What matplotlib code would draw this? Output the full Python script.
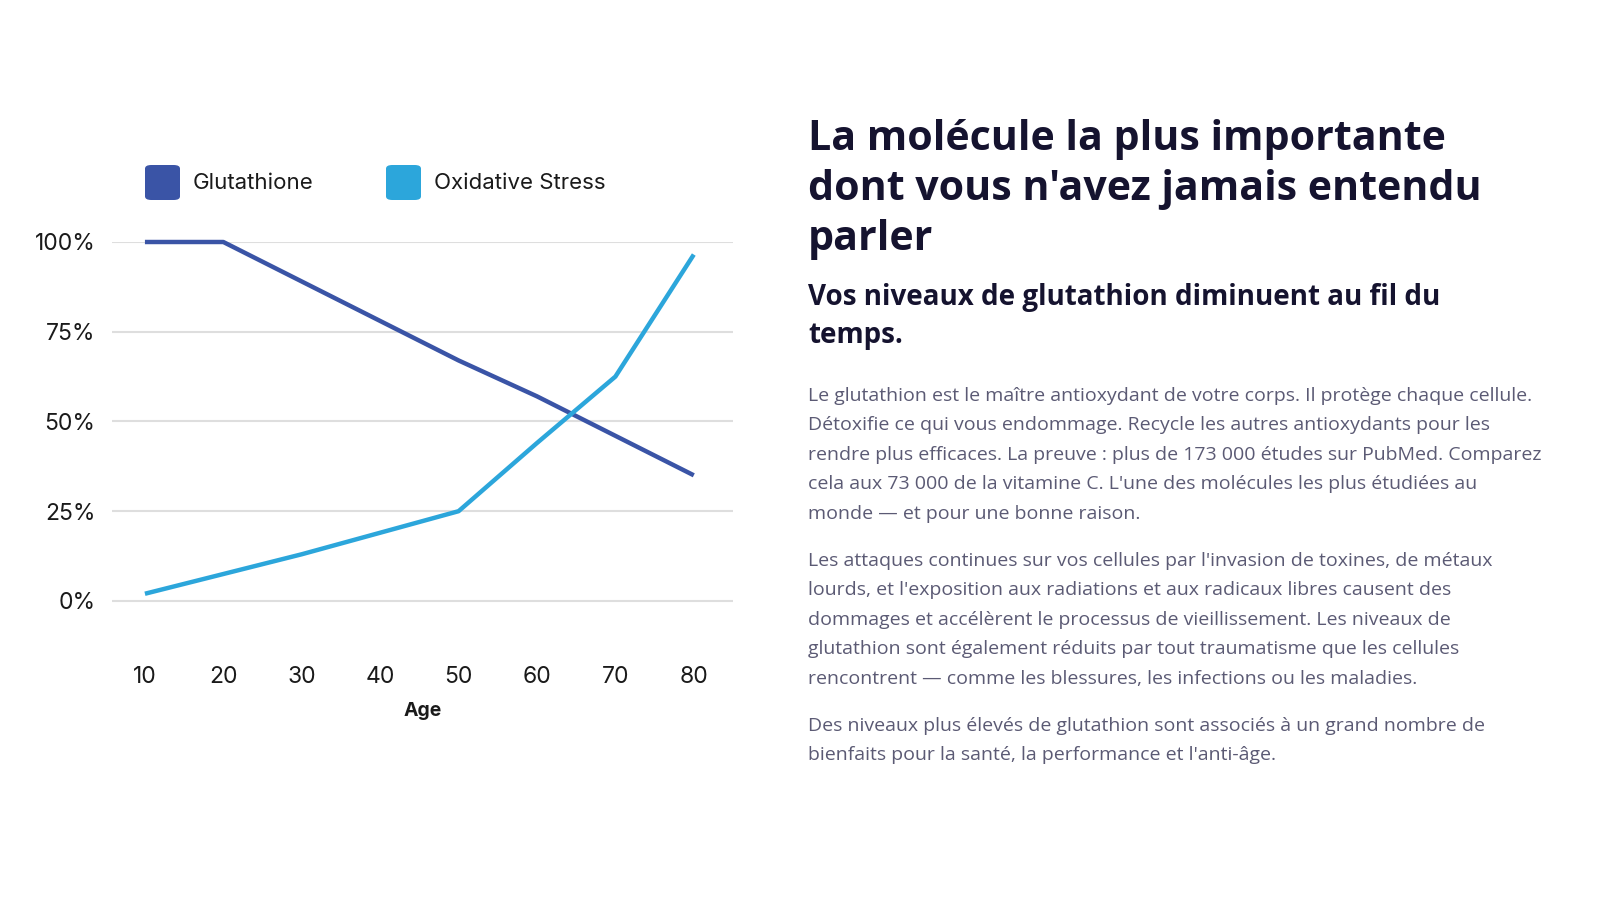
import matplotlib
matplotlib.use("Agg")
import matplotlib.pyplot as plt
from matplotlib.patches import FancyBboxPatch

# chart data
ages = [10, 20, 30, 40, 50, 60, 70, 80]
glutathione = [100, 100, 89, 78, 67, 57, 46, 35]
oxidative_stress = [2, 7.5, 13, 19, 25, 44, 62.5, 96.5]
y_ticks = [0, 25, 50, 75, 100]
series_names = ["Glutathione", "Oxidative Stress"]

title_lines = [
    "La molécule la plus importante",
    "dont vous n'avez jamais entendu",
    "parler",
]
subtitle_lines = [
    "Vos niveaux de glutathion diminuent au fil du",
    "temps.",
]
paragraphs = [
    [
        "Le glutathion est le maître antioxydant de votre corps. Il protège chaque cellule.",
        "Détoxifie ce qui vous endommage. Recycle les autres antioxydants pour les",
        "rendre plus efficaces. La preuve : plus de 173 000 études sur PubMed. Comparez",
        "cela aux 73 000 de la vitamine C. L'une des molécules les plus étudiées au",
        "monde — et pour une bonne raison.",
    ],
    [
        "Les attaques continues sur vos cellules par l'invasion de toxines, de métaux",
        "lourds, et l'exposition aux radiations et aux radicaux libres causent des",
        "dommages et accélèrent le processus de vieillissement. Les niveaux de",
        "glutathion sont également réduits par tout traumatisme que les cellules",
        "rencontrent — comme les blessures, les infections ou les maladies.",
    ],
    [
        "Des niveaux plus élevés de glutathion sont associés à un grand nombre de",
        "bienfaits pour la santé, la performance et l'anti-âge.",
    ],
]

DARK = "#3a54a6"
LIGHT = "#2ca6db"
NAVY = "#15132f"
BODY = "#5b5a74"
CHART_FONT = ["Inter", "DejaVu Sans"]

plt.rcParams["font.family"] = ["Open Sans", "DejaVu Sans"]

W, H = 1600, 900
fig = plt.figure(figsize=(16, 9), dpi=100)
fig.patch.set_facecolor("white")

# axes placed in pixel terms
left_px, right_px, top_px, bottom_px = 112, 733, 242, 644
ax = fig.add_axes([left_px / W, 1 - bottom_px / H,
                   (right_px - left_px) / W, (bottom_px - top_px) / H])
ax.plot(ages, glutathione, color=DARK, lw=3.2, clip_on=False,
        solid_capstyle="butt", zorder=3)
ax.plot(ages, oxidative_stress, color=LIGHT, lw=3.2, clip_on=False,
        solid_capstyle="butt", zorder=3)
ax.set_xlim(5.8, 85)
ax.set_ylim(-12, 100)
ax.set_yticks(y_ticks)
ax.set_yticklabels([f"{v}%" for v in y_ticks], family=CHART_FONT)
ax.set_xticks(ages)
ax.set_xticklabels([str(a) for a in ages], family=CHART_FONT)
ax.grid(axis="y", color="#dedede", lw=1.5)
ax.set_axisbelow(True)
for s in ax.spines.values():
    s.set_visible(False)
ax.tick_params(axis="both", length=0, labelsize=16.5, colors="#1a1a1a")
ax.tick_params(axis="y", pad=12)
ax.tick_params(axis="x", pad=16)
ax.set_xlabel("Age", fontsize=14, fontweight="bold", color="#1a1a1a",
              labelpad=10, family=CHART_FONT)

# legend swatches
for (x0, name, col) in [(145, series_names[0], DARK), (386, series_names[1], LIGHT)]:
    box = FancyBboxPatch((x0 / W, 1 - 200 / H), 35 / W, 35 / H,
                         boxstyle="round,pad=0,rounding_size=0.004",
                         transform=fig.transFigure, facecolor=col,
                         edgecolor="none")
    fig.patches.append(box)
    fig.text((x0 + 48) / W, 1 - 183 / H, name, fontsize=16, color="#1a1a1a",
             va="center", ha="left", family=CHART_FONT)

# right-hand text
tx = 808 / W
for i, line in enumerate(title_lines):
    fig.text(tx, 1 - (139 + i * 50.5) / H, line, fontsize=29.6,
             fontweight="bold", color=NAVY, va="center", ha="left")
for i, line in enumerate(subtitle_lines):
    fig.text(tx, 1 - (298 + i * 37) / H, line, fontsize=20,
             fontweight="bold", color=NAVY, va="center", ha="left")

para_starts = [396, 561, 726]
for start, lines in zip(para_starts, paragraphs):
    for i, line in enumerate(lines):
        fig.text(tx, 1 - (start + i * 29.4) / H, line, fontsize=14,
                 color=BODY, va="center", ha="left")

fig.savefig("out.png", dpi=100, facecolor="white")
